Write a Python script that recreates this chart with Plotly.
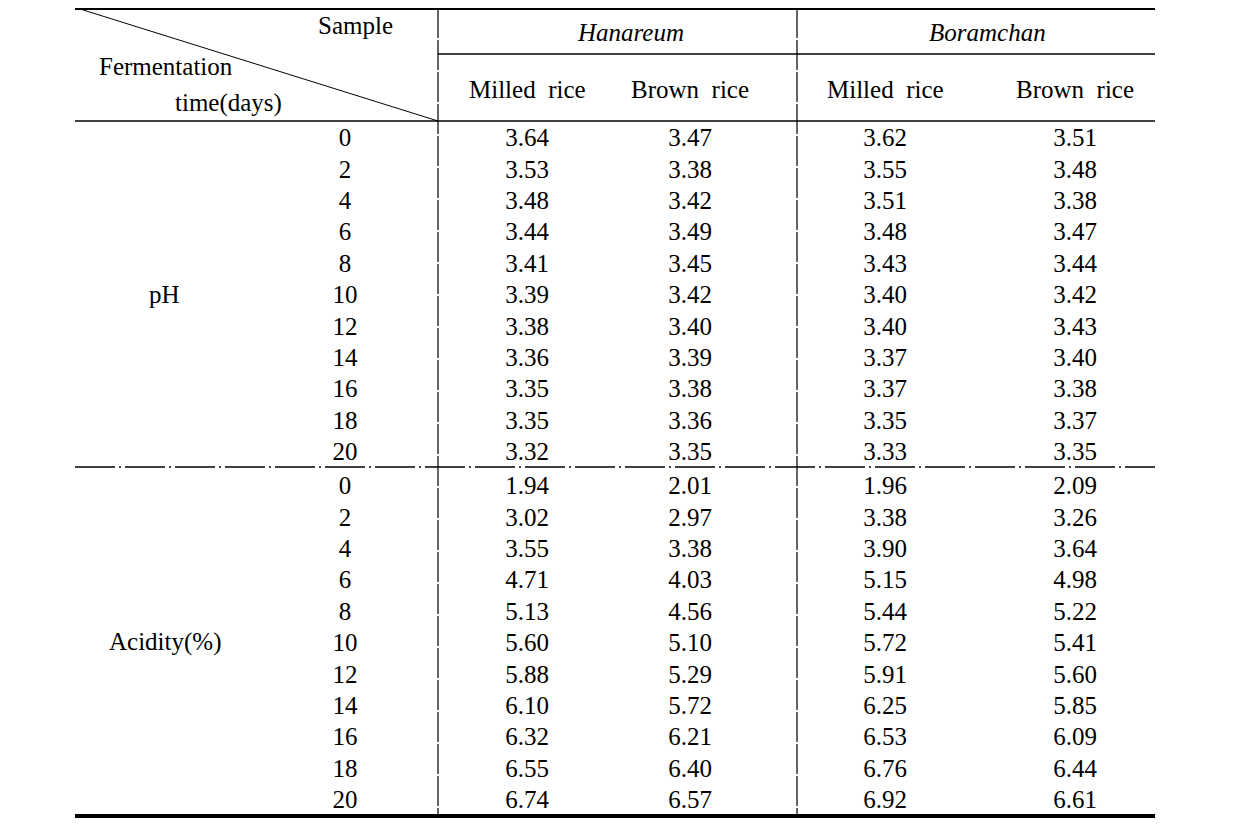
import plotly.graph_objects as go

# table data
days = [0, 2, 4, 6, 8, 10, 12, 14, 16, 18, 20]
ph_han_milled = ["3.64", "3.53", "3.48", "3.44", "3.41", "3.39", "3.38", "3.36", "3.35", "3.35", "3.32"]
ph_han_brown = ["3.47", "3.38", "3.42", "3.49", "3.45", "3.42", "3.40", "3.39", "3.38", "3.36", "3.35"]
ph_bor_milled = ["3.62", "3.55", "3.51", "3.48", "3.43", "3.40", "3.40", "3.37", "3.37", "3.35", "3.33"]
ph_bor_brown = ["3.51", "3.48", "3.38", "3.47", "3.44", "3.42", "3.43", "3.40", "3.38", "3.37", "3.35"]
ac_han_milled = ["1.94", "3.02", "3.55", "4.71", "5.13", "5.60", "5.88", "6.10", "6.32", "6.55", "6.74"]
ac_han_brown = ["2.01", "2.97", "3.38", "4.03", "4.56", "5.10", "5.29", "5.72", "6.21", "6.40", "6.57"]
ac_bor_milled = ["1.96", "3.38", "3.90", "5.15", "5.44", "5.72", "5.91", "6.25", "6.53", "6.76", "6.92"]
ac_bor_brown = ["2.09", "3.26", "3.64", "4.98", "5.22", "5.41", "5.60", "5.85", "6.09", "6.44", "6.61"]

varieties = ["Hanareum", "Boramchan"]
rice_types = ["Milled rice", "Brown rice"]

FONT = "Liberation Serif"
SIZE = 25

# geometry in page pixels (the page body has an 8px margin, axes compensate for it)
left, right = 75, 1155
col_split1, col_split2 = 438, 797
day_x = 345
col_x = [527, 690, 885, 1075]
ph_y0, ac_y0, row_h = 137, 485, 31.4

fig = go.Figure()

def rows(start):
    # +3 because scatter text sits a little higher than annotations
    return [start + 3 + i * row_h for i in range(len(days))]

# day numbers
for y0 in (ph_y0, ac_y0):
    fig.add_trace(go.Scatter(x=[day_x] * len(days), y=rows(y0), mode="text",
                             text=[str(d) for d in days], textposition="middle center",
                             textfont=dict(family=FONT, size=SIZE, color="black"),
                             showlegend=False, hoverinfo="skip"))

# value columns
columns = [(ph_han_milled, ac_han_milled), (ph_han_brown, ac_han_brown),
           (ph_bor_milled, ac_bor_milled), (ph_bor_brown, ac_bor_brown)]
for cx, (ph_vals, ac_vals) in zip(col_x, columns):
    for y0, vals in ((ph_y0, ph_vals), (ac_y0, ac_vals)):
        fig.add_trace(go.Scatter(x=[cx] * len(vals), y=rows(y0), mode="text",
                                 text=vals, textposition="middle center",
                                 textfont=dict(family=FONT, size=SIZE, color="black"),
                                 showlegend=False, hoverinfo="skip"))

def label(x, y, txt, italic=False):
    fig.add_annotation(x=x, y=y, text=txt, showarrow=False, xanchor="center", yanchor="middle",
                       font=dict(family=FONT, size=SIZE, color="black",
                                 style="italic" if italic else "normal"))

# header texts
label(355, 25, "Sample")
label(166, 66, "Fermentation")
label(228, 103, "time(days)")
label(630, 32, varieties[0], italic=True)
label(987, 32, varieties[1], italic=True)
for cx, rt in zip(col_x, rice_types * 2):
    label(cx, 89, rt.replace(" ", "&nbsp;&nbsp;"))
label(164, ph_y0 + 5 * row_h, "pH")
label(165, ac_y0 + 5 * row_h, "Acidity(%)")

# rules
fig.add_shape(type="line", x0=left, x1=right, y0=8, y1=8, line=dict(color="black", width=4))
fig.add_shape(type="line", x0=left, x1=right, y0=816, y1=816, line=dict(color="black", width=4))
fig.add_shape(type="line", x0=col_split1, x1=right, y0=54, y1=54, line=dict(color="black", width=1.3))
fig.add_shape(type="line", x0=left, x1=right, y0=121, y1=121, line=dict(color="black", width=1.3))
fig.add_shape(type="line", x0=left, x1=right, y0=467, y1=467,
              line=dict(color="black", width=1.3, dash="40px,4px,2px,4px"))
for vx in (col_split1, col_split2):
    fig.add_shape(type="line", x0=vx, x1=vx, y0=8, y1=816,
                  line=dict(color="black", width=1.2, dash="30px,2px"))
# diagonal in the corner cell
fig.add_shape(type="line", x0=80, x1=col_split1, y0=9, y1=121, line=dict(color="black", width=1))

fig.update_xaxes(range=[8, 1229], visible=False, fixedrange=True)
fig.update_yaxes(range=[825, 8], visible=False, fixedrange=True)
fig.update_layout(width=1221, height=817, margin=dict(l=0, r=0, t=0, b=0),
                  plot_bgcolor="white", paper_bgcolor="white")

fig.write_html("out.html")
